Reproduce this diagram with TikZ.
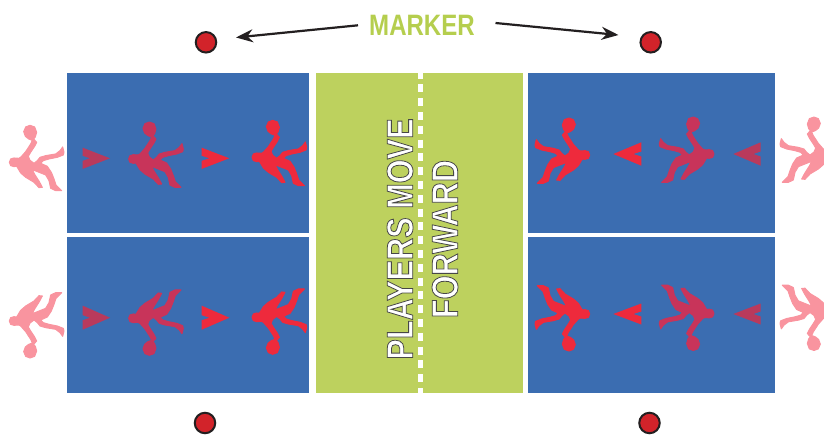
\documentclass[tikz,border=0pt]{standalone}
\usepackage{fontspec}
\usetikzlibrary{arrows.meta}
\setmainfont{Liberation Sans}
\newfontfamily\condsans[FakeStretch=0.83]{Liberation Sans Bold}
\newfontfamily\condbold[FakeStretch=0.815]{Liberation Sans Bold}
\definecolor{courtblue}{HTML}{3B6DB1}
\definecolor{zonegreen}{HTML}{BDD15E}
\definecolor{labelgreen}{HTML}{B5CE4E}
\definecolor{markerred}{HTML}{D2232A}
\definecolor{inkblack}{HTML}{231F20}
\definecolor{playerbright}{HTML}{EE2A3C}
\definecolor{playermid}{HTML}{C8345A}
\definecolor{playerpale}{HTML}{F9949F}
\definecolor{chevrondim}{HTML}{B93A5C}
% white letters with a thin dark outline
\newcommand{\outlined}[1]{\special{pdf:code q 2 Tr 0.8 w 0.28 0.28 0.28 RG 1 1 1 rg}#1\special{pdf:code Q}}
% athlete silhouette: x, y of the head centre, x flip, y flip, colour
\newcommand{\athlete}[5]{%
  \filldraw[#5,line width=1pt,shift={(#1,#2)},xscale=#3,yscale=#4,scale=1/3,line join=round]
    (0,-13) -- (14,-12) -- (20,-15) -- (35,-32) -- (50,-55) -- (55,-66) -- (44,-70)
    -- (34,-78) -- (29,-92) -- (35,-106) -- (48,-111) -- (62,-106) -- (68,-90)
    -- (64,-76) -- (59,-70) -- (68,-60) -- (62,-48) -- (50,-30) -- (43,-18) -- (48,-6)
    -- (60,3) -- (70,-5) -- (78,-15) -- (95,-20) -- (125,-25) -- (138,-35) -- (146,-46)
    -- (150,-30) -- (148,-22) -- (130,-15) -- (105,-10) -- (88,-5) -- (80,3) -- (100,12)
    -- (112,30) -- (120,50) -- (126,68) -- (143,85) -- (125,85) -- (110,78) -- (105,55)
    -- (95,38) -- (75,30) -- (55,22) -- (62,36) -- (76,58) -- (85,75) -- (75,76)
    -- (60,60) -- (35,45) -- (20,32) -- (8,12) -- (0,13) -- (-10,10) -- (-14,0) -- (-10,-10) -- cycle;
}
% arrowhead with a small notch: rear x, notch x, tip x, middle y, half height, colour
\newcommand{\chevron}[6]{%
  \fill[#6] (#1,#4-#5) -- (#3,#4) -- (#1,#4+#5) -- (#1,#4+2.5) -- (#2,#4) -- (#1,#4-2.5) -- cycle;
}
\tikzset{
  dotmark/.style={circle,draw=inkblack,fill=markerred,line width=2pt,minimum size=20.5pt,inner sep=0pt},
  leader/.style={draw=inkblack,line width=2.2pt,-{Stealth[length=17pt,width=13pt]}},
  movetext/.style={rotate=90,align=center,inner sep=0pt,font=\condsans\fontsize{37}{45}\selectfont},
}
\begin{document}
\begin{tikzpicture}[x=1pt,y=-1pt]
\useasboundingbox (0,0) rectangle (824,434);

% playing areas
\fill[courtblue] (67,73) rectangle (309,233);
\fill[courtblue] (67,237) rectangle (309,393);
\fill[courtblue] (528,73) rectangle (775,233);
\fill[courtblue] (528,237) rectangle (775,393);
\fill[zonegreen] (315.5,73) rectangle (523,393);
\draw[white,line width=4.4pt,dash pattern=on 8pt off 5.8pt,dash phase=2.4pt] (420.5,73) -- (420.5,393);

% top left lane
\athlete{14}{162.3}{1}{1}{playerpale}
\chevron{82.7}{90}{110}{158.3}{10.6}{chevrondim}
\athlete{133.3}{159}{1}{1}{playermid}
\chevron{201.7}{209.5}{229.3}{158.3}{10.6}{playerbright}
\athlete{256.7}{157.3}{1}{1}{playerbright}

% bottom left lane
\athlete{14}{321}{1}{-1}{playerpale}
\chevron{82.7}{90}{110}{317.7}{12}{chevrondim}
\athlete{133.3}{318.3}{1}{-1}{playermid}
\chevron{201.7}{209.5}{229.3}{317.7}{12}{playerbright}
\athlete{256.7}{317.3}{1}{-1}{playerbright}

% top right lane
\athlete{585}{155}{-1}{1}{playerbright}
\chevron{641.3}{633.3}{613.3}{154}{11.7}{playerbright}
\athlete{709.3}{154}{-1}{1}{playermid}
\chevron{760.7}{753.3}{733.3}{154}{11.7}{chevrondim}
\athlete{830}{154}{-1}{1}{playerpale}

% bottom right lane
\athlete{585}{314}{-1}{-1}{playerbright}
\chevron{641.3}{633.3}{613.3}{314}{10.5}{playerbright}
\athlete{709.3}{313.5}{-1}{-1}{playermid}
\chevron{760.7}{753.3}{733.3}{314}{10.5}{chevrondim}
\athlete{830}{313.5}{-1}{-1}{playerpale}

% centre text
\node[movetext] (move) at (422.5,239) {\outlined{PLAYERS MOVE}\\\outlined{FORWARD}};

% corner markers and their label
\node[dotmark] (tl) at (206,42.3) {};
\node[dotmark] (tr) at (650.7,42.3) {};
\node[dotmark] (bl) at (205,423) {};
\node[dotmark] (br) at (649.5,423) {};
\node[text=labelgreen,inner sep=0pt,font=\condbold\fontsize{29.5}{30}\selectfont] (marker) at (422,25) {MARKER};
\coordinate (ml) at (358,25.3);
\coordinate (mr) at (495.5,23);
\coordinate (tla) at (236,37.5);
\coordinate (tra) at (618.5,35);
\draw[leader] (ml) -- (tla);
\draw[leader] (mr) -- (tra);
\end{tikzpicture}
\end{document}
